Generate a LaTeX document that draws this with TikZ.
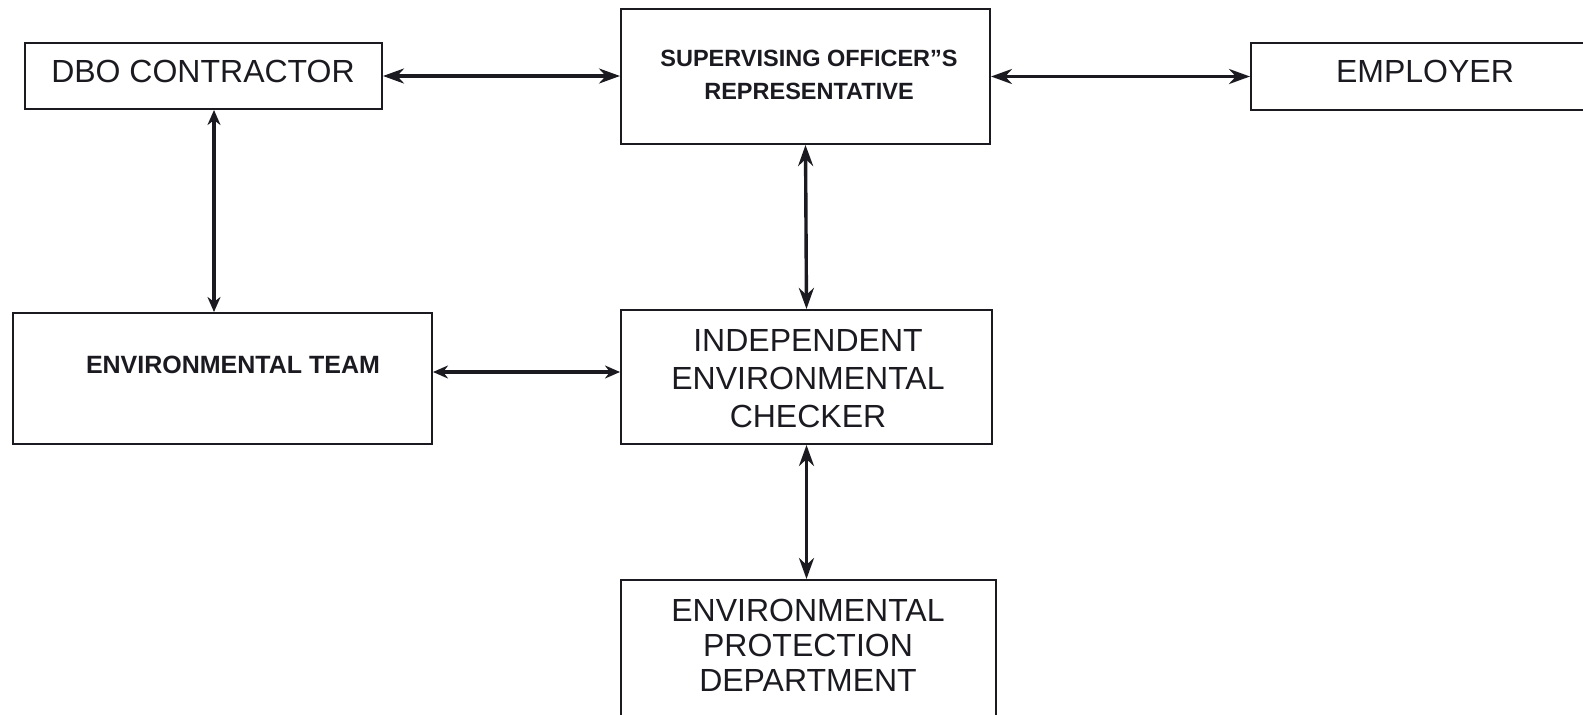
\documentclass[tikz,border=0pt]{standalone}
\usepackage{fontspec}
\setmainfont{Liberation Sans}
\usetikzlibrary{arrows.meta}
\definecolor{ink}{HTML}{1A1A20}
\tikzset{
  box/.style={draw=ink, line width=2pt, rectangle, inner sep=0pt},
  reg/.style={text=ink, font=\fontsize{32}{36}\selectfont, align=center, inner sep=0pt},
  bld/.style={text=ink, font=\fontsize{25}{33}\selectfont\bfseries, align=center, inner sep=0pt},
  arr/.style={draw=ink, line width=3.4pt, {Stealth[length=21pt,width=15pt]}-{Stealth[length=21pt,width=15pt]}},
  arrs/.style={draw=ink, line width=3.2pt, {Stealth[length=15pt,width=13pt]}-{Stealth[length=15pt,width=13pt]}}
}
\begin{document}
\begin{tikzpicture}[x=1pt,y=-1pt]
\useasboundingbox (0,0) rectangle (1583,715);
% boxes
\node[box, minimum width=357pt, minimum height=66pt] (dbo) at (203.5,76) {};
\node[box, minimum width=369pt, minimum height=135pt] (sor) at (805.5,76.5) {};
\node[box, minimum width=340pt, minimum height=67pt] (emp) at (1421,76.5) {};
\node[box, minimum width=419pt, minimum height=131pt] (et) at (222.5,378.5) {};
\node[box, minimum width=371pt, minimum height=134pt] (iec) at (806.5,377) {};
\node[box, minimum width=375pt, minimum height=140pt] (epd) at (808.5,650) {};
% texts
\node[reg] (tdbo) at (203,71) {DBO CONTRACTOR};
\node[bld, font=\fontsize{23.5}{33}\selectfont\bfseries] (tsor) at (809,75) {SUPERVISING OFFICER”S\\REPRESENTATIVE};
\node[reg] (temp) at (1425,71) {EMPLOYER};
\node[bld] (tet) at (233,365) {ENVIRONMENTAL TEAM};
\node[reg, font=\fontsize{32}{38}\selectfont] (tiec) at (808,379) {INDEPENDENT\\ENVIRONMENTAL\\CHECKER};
\node[reg, font=\fontsize{32}{35}\selectfont] (tepd) at (808,645) {ENVIRONMENTAL\\PROTECTION\\DEPARTMENT};
% connectors
\draw[arr] (dbo.east) -- (sor.west |- dbo.east);
\draw[arr] (sor.east |- emp.west) -- (emp.west);
\draw[arrs] ([xshift=10.5pt]dbo.south) -- ([xshift=-8.5pt]et.north);
\draw[arr] (sor.south) -- (iec.north);
\draw[arrs] ([yshift=6.5pt]et.east) -- ([yshift=5pt]iec.west);
\draw[arr] (iec.south) -- ([xshift=-2pt]epd.north);
\end{tikzpicture}
\end{document}
